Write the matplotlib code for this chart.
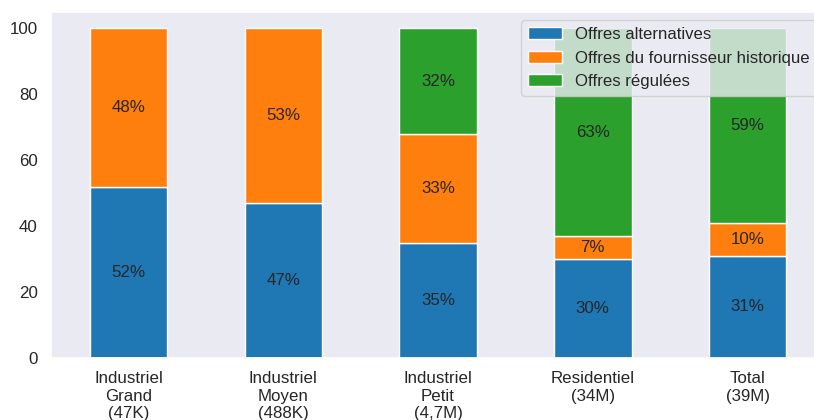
import numpy as np
import pandas as pd
import matplotlib
matplotlib.use('Agg')
import matplotlib.pyplot as plt
import seaborn as sns

# données
categories = ['Industriel\nGrand\n(47K)', 'Industriel\nMoyen\n(488K)', 'Industriel\nPetit\n(4,7M)',
              'Residentiel\n(34M)', 'Total\n(39M)']
alternatives = [52, 47, 35, 30, 31]
historique = [48, 53, 33, 7, 10]
regulees = [0, 0, 32, 63, 59]

sns.set_theme(style='dark')
plt.rcParams['font.family'] = ['Liberation Sans', 'DejaVu Sans']

data = pd.DataFrame({
    'Offres alternatives': alternatives,
    'Offres du fournisseur historique': historique,
    'Offres régulées': regulees,
}, index=categories)

fig = plt.figure(figsize=(8.14, 4.2), dpi=100)
ax = fig.add_axes([51 / 814, 62 / 420, (825 - 51) / 814, 346 / 420])
data.plot(kind='bar', stacked=True, ax=ax, width=0.5, edgecolor='white', linewidth=1,
          color=['#1f77b4', '#ff7f0e', '#2ca02c'])

# pourcentages au milieu de chaque segment
for cont in ax.containers:
    labels = ['%d%%' % v if v > 0 else '' for v in cont.datavalues]
    ax.bar_label(cont, labels=labels, label_type='center', fontsize=12.2, color='#262626')

ax.set_xticklabels(categories, rotation=0)
ax.tick_params(axis='both', labelsize=12.2)
ax.set_xlabel('')
ax.legend(loc='upper right', fontsize=12.1)

fig.savefig('out.png', dpi=100)
